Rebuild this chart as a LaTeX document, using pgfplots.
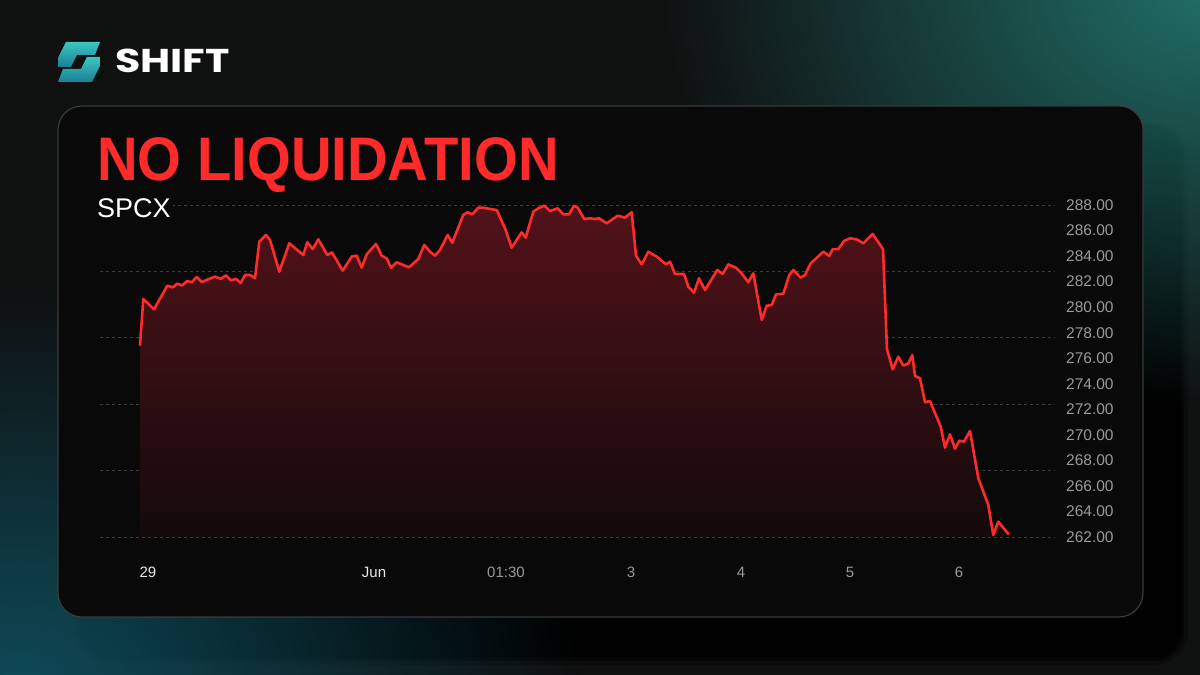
\documentclass[border=0pt]{standalone}
\usepackage{fontspec}
\setmainfont{Liberation Sans}
\newfontfamily\logofont{Poppins}
\usepackage{graphicx}
\usepackage{pgfplots}
\pgfplotsset{compat=1.18}
\usepackage{pgfplotstable}
\usetikzlibrary{fadings}

\definecolor{bg}{HTML}{0F1010}
\definecolor{card}{HTML}{090909}
\definecolor{cardborder}{HTML}{3A3A3A}
\definecolor{tealA}{HTML}{217069}
\definecolor{tealB}{HTML}{0E4A58}
\definecolor{iconTop}{HTML}{3CC6C2}
\definecolor{iconBot}{HTML}{1C7E94}
\definecolor{linered}{HTML}{FF2B2B}
\definecolor{titlered}{HTML}{FF2A2A}
\definecolor{gridc}{HTML}{3C3C3C}
\definecolor{ticklbl}{HTML}{9A9A9A}
\definecolor{xw}{HTML}{E8E8E8}
\definecolor{fillTop}{HTML}{521219}
\definecolor{fillBot}{HTML}{130A0B}

\tikzfading[name=glow, inner color=transparent!0, outer color=transparent!100]

\pgfplotstableread{
x y
140 277.04
143.3 280.64
154 279.83
167.3 281.68
172.7 281.55
177.3 281.84
182.3 281.71
187.3 282.05
191.7 281.95
196.7 282.36
201.7 281.97
208.3 282.18
215 282.39
220.7 282.21
226 282.49
230.7 282.10
236 282.21
240.7 281.89
245 282.52
250 282.52
255 282.26
259.3 285.13
266 285.65
270 285.26
279.3 282.78
289.3 285.00
303.3 284.08
307.3 285.08
312.7 284.55
318.3 285.31
327.3 284.08
332 284.29
342.7 282.86
351.7 283.96
356.7 284.03
361.7 283.09
366.7 284.14
376 284.95
381.7 284.03
386.7 283.82
391 283.09
396.7 283.51
403.3 283.30
409 283.12
418.3 283.77
424.3 284.87
430 284.34
435 284.03
440 284.48
447.7 285.65
452.3 285.05
463.3 287.22
467.7 287.43
472.3 287.27
478.3 287.79
483.3 287.79
490 287.69
496.7 287.61
505 286.18
511.7 284.66
517.7 285.39
521.7 285.86
525.7 285.44
533.3 287.48
538.3 287.74
544.3 287.95
550 287.53
557.7 287.74
563.3 287.27
569 287.27
574 287.95
577.7 287.79
584.3 286.90
590 286.96
595 286.90
599 286.96
606.7 286.57
617.7 287.16
625 287.01
631.7 287.43
636 284.03
641.7 283.35
648.3 284.34
656.7 283.96
666 283.35
670 283.56
675 282.60
684 282.60
688.3 281.60
694 281.13
699 282.26
705 281.34
717.3 282.91
722.7 282.60
728.3 283.35
736 283.09
740.7 282.73
748.3 281.95
753.3 282.65
761.7 279.00
766.7 280.11
771.7 280.17
776 281.00
783.3 281.05
789.3 282.52
793.3 282.91
800.7 282.31
805 282.52
810.7 283.43
823.3 284.34
829.3 284.01
832.7 284.55
838.3 284.55
844 285.18
850 285.39
856.7 285.31
863.3 285.00
872.7 285.73
883 284.55
887 276.70
892.7 275.13
898.3 276.12
903.3 275.42
908.3 275.60
912.3 276.25
915 274.61
920 274.43
925 272.55
930 272.65
940.7 270.64
945 269.00
950 270.04
955 268.92
959.3 269.54
964 269.47
970 270.30
978.3 266.60
988.3 264.51
993.3 262.16
998.3 263.20
1008.3 262.24
}\pricedata

\begin{document}
\begin{tikzpicture}[x=1pt,y=1pt]
\path[use as bounding box] (0,0) rectangle (1200,675);
\clip (0,0) rectangle (1200,675);
\fill[bg] (0,0) rectangle (1200,675);
% card shadow
\fill[black, opacity=0.25, rounded corners=34] (76,10) rectangle (1188,552);
\fill[black, opacity=0.5, rounded corners=30] (78,14) rectangle (1184,550);
\fill[black!100, opacity=0.8, rounded corners=28] (80,17) rectangle (1181,548);
% glows
\fill[tealA, path fading=glow] (1215,690) ellipse (560 and 420);
\fill[tealB, path fading=glow] (20,-10) ellipse (560 and 400);
% card
\filldraw[fill=card, draw=cardborder, line width=1.2, rounded corners=24] (58,58) rectangle (1143,569);
% logo icon
\shade[top color=iconTop, bottom color=iconBot] (66,633) -- (100,633) -- (95,620) -- (77,620) -- (71,608) -- (58,608) -- (58,617) -- cycle;
\shade[top color=iconTop, bottom color=iconBot] (92,593) -- (58,593) -- (63,606) -- (81,606) -- (87,618) -- (100,618) -- (100,609) -- cycle;
\node[anchor=base west, inner sep=0, text=white] at (115,602) {\scalebox{1.25}[1]{\logofont\bfseries\fontsize{33}{34}\selectfont SHIFT}};
% title
\node[anchor=base west, inner sep=0, text=titlered] at (97,494) {\scalebox{0.915}[1]{\bfseries\fontsize{61.5}{62}\selectfont NO LIQUIDATION}};

\begin{axis}[
  at={(100pt,138pt)}, anchor=south west, scale only axis,
  width=955pt, height=332pt,
  xmin=100, xmax=1055, ymin=262, ymax=288,
  clip=false,
  axis line style={draw=none}, tick style={draw=none},
  ytick={262,264,...,288},
  yticklabels={262.00,264.00,266.00,268.00,270.00,272.00,274.00,276.00,278.00,280.00,282.00,284.00,286.00,288.00},
  yticklabel pos=right,
  yticklabel style={anchor=west, inner sep=0pt, xshift=11pt, text=ticklbl, font=\fontsize{15.5}{16}\selectfont},
  extra y ticks={262,267.2,272.4,277.6,282.8,288},
  extra y tick labels={},
  extra y tick style={grid=major, major grid style={gridc, dash pattern=on 3pt off 3pt, line width=0.8pt}},
  xtick={148,374,506,631,741,850,959},
  xticklabels={\textcolor{xw}{29},\textcolor{xw}{Jun},01:30,3,4,5,6},
  xticklabel style={anchor=base, inner sep=0pt, yshift=-40.5pt, text=ticklbl, font=\fontsize{15}{16}\selectfont},
]
\addplot[draw=none, top color=fillTop, bottom color=fillBot] table[x=x,y=y] {\pricedata} \closedcycle;
\addplot[linered, line width=2.6pt, line join=round, line cap=round] table[x=x,y=y] {\pricedata};
\end{axis}

\node[anchor=base west, inner sep=2pt, fill=card, text=white] at (95,457) {\fontsize{27}{27}\selectfont SPCX};
\end{tikzpicture}
\end{document}
